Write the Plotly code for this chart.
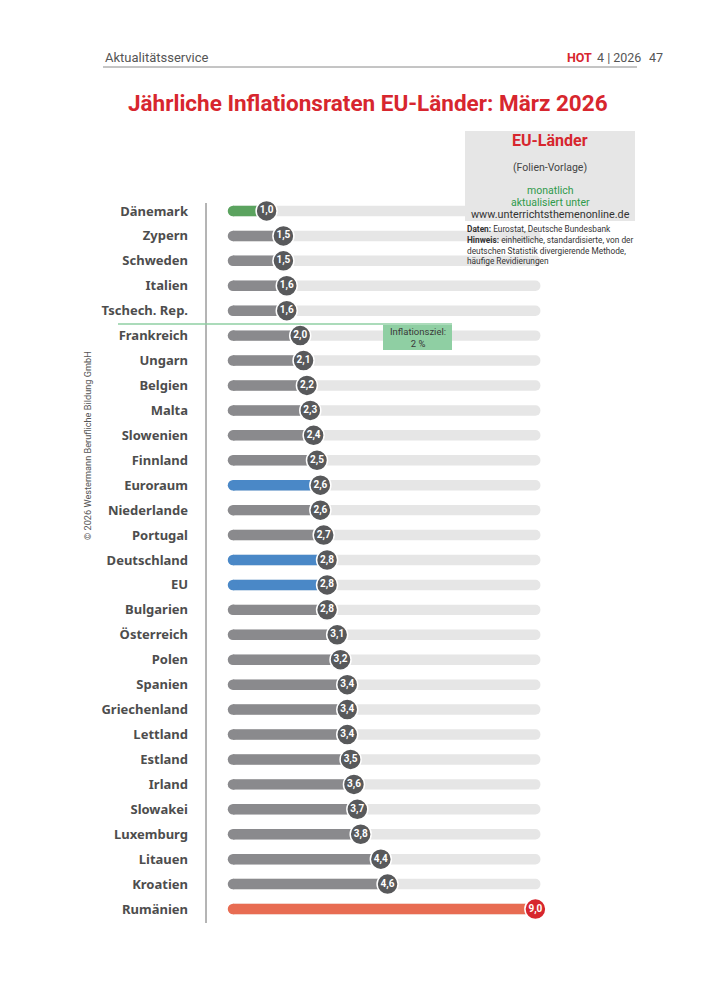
import plotly.graph_objects as go

# Daten (März 2026, Inflation in %)
COUNTRIES = [
    "Dänemark", "Zypern", "Schweden", "Italien", "Tschech. Rep.", "Frankreich",
    "Ungarn", "Belgien", "Malta", "Slowenien", "Finnland", "Euroraum",
    "Niederlande", "Portugal", "Deutschland", "EU", "Bulgarien", "Österreich",
    "Polen", "Spanien", "Griechenland", "Lettland", "Estland", "Irland",
    "Slowakei", "Luxemburg", "Litauen", "Kroatien", "Rumänien",
]
RATES = [
    1.0, 1.5, 1.5, 1.6, 1.6, 2.0,
    2.1, 2.2, 2.3, 2.4, 2.5, 2.6,
    2.6, 2.7, 2.8, 2.8, 2.8, 3.1,
    3.2, 3.4, 3.4, 3.4, 3.5, 3.6,
    3.7, 3.8, 4.4, 4.6, 9.0,
]
BLUE_ROWS = ["Euroraum", "Deutschland", "EU"]
LOW_ROW = "Dänemark"
HIGH_ROW = "Rumänien"
BG_MAX = 9.15

W, H = 720, 992
OFF = 8  # Seitenrand des Browsers
RED = "#d7262e"
GRAY_BAR = "#8a8a8d"
GRAY_DOT = "#58595b"
BG_BAR = "#e6e6e6"


def px(x):
    return (x - OFF) / W


def py(y):
    return 1 - (y - OFF) / H


def bar_color(name):
    if name == LOW_ROW:
        return "#5ba35f"
    if name in BLUE_ROWS:
        return "#4a88c7"
    if name == HIGH_ROW:
        return "#e86c52"
    return GRAY_BAR


colors = [bar_color(c) for c in COUNTRIES]
fig = go.Figure()

# Hintergrundbalken
fig.add_trace(go.Bar(
    y=COUNTRIES, x=[BG_MAX] * len(COUNTRIES), orientation="h",
    marker=dict(color=BG_BAR, cornerradius=5, line=dict(width=0)),
    width=0.42, hoverinfo="skip", showlegend=False,
))
# Wertbalken
fig.add_trace(go.Bar(
    y=COUNTRIES, x=RATES, orientation="h",
    marker=dict(color=colors, cornerradius=5, line=dict(width=0)),
    width=0.42, hoverinfo="skip", showlegend=False,
))
# runde Balkenanfänge
fig.add_trace(go.Scatter(
    y=COUNTRIES, x=[0] * len(COUNTRIES), mode="markers",
    marker=dict(size=10.5, color=colors, line=dict(width=0)),
    hoverinfo="skip", cliponaxis=False, showlegend=False,
))
# Kreise mit Werten
fig.add_trace(go.Scatter(
    y=COUNTRIES, x=RATES, mode="markers+text",
    marker=dict(size=21, color=[RED if c == HIGH_ROW else GRAY_DOT for c in COUNTRIES],
                line=dict(color="white", width=1.5)),
    texttemplate="%{x:.1f}", textposition="middle center",
    textfont=dict(family="Roboto", size=10, color="white", weight="bold"),
    cliponaxis=False, showlegend=False,
))

top_px, bot_px = 198.5, 921.5
x0_px, x1_px, unit = 233, 545, 33.6
n = len(COUNTRIES)
fig.update_layout(
    width=W, height=H,
    margin=dict(l=0, r=0, t=0, b=0),
    paper_bgcolor="white", plot_bgcolor="white",
    barmode="overlay", separators=",.",
    xaxis=dict(domain=[px(x0_px), px(x1_px)], range=[0, (x1_px - x0_px) / unit],
               visible=False, fixedrange=True),
    yaxis=dict(domain=[py(bot_px), py(top_px)], range=[n - 0.5, -0.5],
               categoryorder="array", categoryarray=COUNTRIES,
               showgrid=False, zeroline=False, showline=False, ticks="",
               ticklabelstandoff=44, fixedrange=True,
               tickfont=dict(family="Noto Sans", size=13, color="#4d4d4d",
                             weight="bold")),
)

shapes = [
    # Kopfzeile
    dict(type="line", xref="paper", yref="paper", x0=px(103), x1=px(637),
         y0=py(67), y1=py(67), line=dict(color="#8a8a8a", width=1)),
    # vertikale Achse
    dict(type="line", xref="paper", yref="paper", x0=px(206), x1=px(206),
         y0=py(203), y1=py(923), line=dict(color="#6a6a6a", width=1)),
    # Inflationsziel-Linie
    dict(type="line", xref="paper", yref="paper", x0=px(118), x1=px(452),
         y0=py(324), y1=py(324), line=dict(color="#8fcfa3", width=1.5)),
    dict(type="rect", xref="paper", yref="paper", x0=px(383), x1=px(452),
         y0=py(350), y1=py(325), fillcolor="#8fcfa3", line=dict(width=0)),
    # Infobox
    dict(type="rect", xref="paper", yref="paper", x0=px(465), x1=px(635),
         y0=py(221), y1=py(131), fillcolor="#e6e6e6", line=dict(width=0),
         layer="below"),
]
fig.update_layout(shapes=shapes)

FONT = "Roboto"


def note(x, y, text, size, color, xanchor="left", weight="normal", **kw):
    fig.add_annotation(xref="paper", yref="paper", x=px(x), y=py(y), text=text,
                       showarrow=False, xanchor=xanchor, yanchor="middle",
                       font=dict(family=FONT, size=size, color=color, weight=weight),
                       **kw)


note(103, 57, "Aktualitätsservice", 13, "#555555")
note(565, 57, "<b>HOT</b>", 12.5, RED)
note(595, 57, "4 | 2026", 12.5, "#555555")
note(665, 57, "47", 12.5, "#555555", xanchor="right")
note(368, 103, "Jährliche Inflationsraten EU-Länder: März 2026", 22.5, RED,
     xanchor="center", weight="bold")

note(550, 141, "EU-Länder", 16, RED, xanchor="center", weight="bold")
note(550, 167, "(Folien-Vorlage)", 10.5, "#444444", xanchor="center")
note(550, 190, "monatlich", 10.5, "#2f9a4b", xanchor="center")
note(550, 202, "aktualisiert unter", 10.5, "#2f9a4b", xanchor="center")
note(550, 214.5, "www.unterrichtsthemenonline.de", 10.8, "#333333", xanchor="center")
fig.add_annotation(
    xref="paper", yref="paper", x=px(465), y=py(222), xanchor="left", yanchor="top",
    align="left", showarrow=False,
    text="<b>Daten:</b> Eurostat, Deutsche Bundesbank<br>"
         "<b>Hinweis:</b> einheitliche, standardisierte, von der<br>"
         "deutschen Statistik divergierende Methode,<br>"
         "häufige Revidierungen",
    font=dict(family=FONT, size=8.3, color="#333333"),
)

note(417.5, 337.5, "Inflationsziel:<br>2 %", 9.5, "#3a3a3a", xanchor="center")
note(87, 446, "© 2026 Westermann Berufliche Bildung GmbH", 9.2, "#555555",
     xanchor="center", textangle=-90)

fig.write_html("out.html")
